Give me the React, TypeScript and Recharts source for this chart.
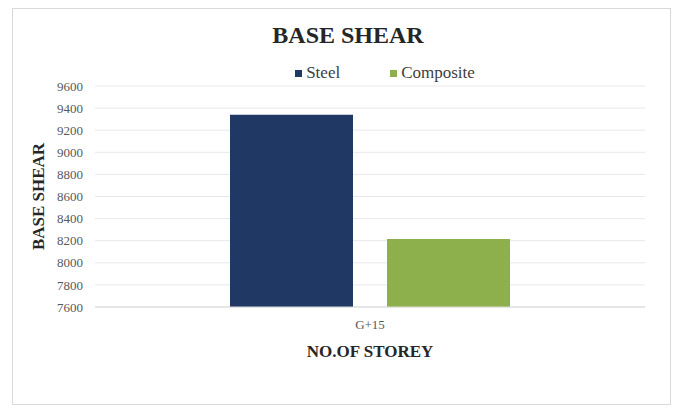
import React from "react";
import { BarChart, Bar, XAxis, YAxis, CartesianGrid, Legend, Label } from "recharts";

// Base shear for G+15 building — steel vs composite
const categories = ["G+15"];
const steelValues = [9340];
const compositeValues = [8215];
const yTicks = [7600, 7800, 8000, 8200, 8400, 8600, 8800, 9000, 9200, 9400, 9600];
const seriesNames = ["Steel", "Composite"];

const data = categories.map((name, i) => ({
  name,
  Steel: steelValues[i],
  Composite: compositeValues[i],
}));

const SERIF = "Liberation Serif, Times New Roman, serif";
const STEEL = "#1F3864";
const COMPOSITE = "#8DB04C";
const colorOf: Record<string, string> = { Steel: STEEL, Composite: COMPOSITE };

function LegendContent() {
  return (
    <div style={{ display: "flex", justifyContent: "center", gap: 50, fontFamily: SERIF, fontSize: 17, color: "#404040" }}>
      {seriesNames.map((n) => (
        <div key={n} style={{ display: "flex", alignItems: "center" }}>
          <span style={{ width: 7, height: 7, background: colorOf[n], display: "inline-block", marginRight: 4 }} />
          {n}
        </div>
      ))}
    </div>
  );
}

export default function App() {
  return (
    <div style={{ position: "absolute", left: 0, top: 0, width: 683, height: 414, background: "#fff", fontFamily: SERIF }}>
      <div
        style={{
          position: "absolute", left: 12, top: 8, width: 659, height: 397,
          border: "1px solid #d9d9d9", boxSizing: "border-box",
        }}
      />
      <div
        style={{
          position: "absolute", left: 0, top: 22, width: 696, textAlign: "center",
          fontFamily: SERIF, fontWeight: "bold", fontSize: 24, color: "#262626",
        }}
      >
        BASE SHEAR
      </div>
      <div style={{ position: "absolute", left: 0, top: 0 }}>
        <style>{`.recharts-wrapper text { font-family: Liberation Serif, Times New Roman, serif; }`}</style>
        <BarChart
          width={683}
          height={414}
          data={data}
          margin={{ top: 64, right: 38, bottom: 47, left: 0 }}
          barSize={123}
          barGap={34}
        >
          <CartesianGrid vertical={false} stroke="#e8e8e8" />
          <XAxis
            dataKey="name"
            height={60}
            axisLine={{ stroke: "#d9d9d9" }}
            tickLine={false}
            tickSize={0}
            tickMargin={13}
            tick={{ fill: "#595959", fontSize: 13, fontFamily: SERIF }}
          >
            <Label
              value="NO.OF STOREY"
              position="insideBottom"
              offset={10}
              style={{ fontFamily: SERIF, fontWeight: "bold", fontSize: 17, fill: "#262626" }}
            />
          </XAxis>
          <YAxis
            width={95}
            domain={[7600, 9600]}
            ticks={yTicks}
            interval={0}
            axisLine={false}
            tickLine={false}
            tickSize={0}
            tickMargin={12}
            tick={{ fill: "#595959", fontSize: 13, fontFamily: SERIF }}
          >
            <Label
              value="BASE SHEAR"
              angle={-90}
              position="insideLeft"
              offset={38}
              style={{ fontFamily: SERIF, fontWeight: "bold", fontSize: 17, fill: "#262626", textAnchor: "middle" }}
            />
          </YAxis>
          <Legend
            verticalAlign="top"
            height={22}
            content={<LegendContent />}
            wrapperStyle={{ top: 63, left: 194, width: 382 }}
          />
          <Bar dataKey="Steel" fill={STEEL} isAnimationActive={false} />
          <Bar dataKey="Composite" fill={COMPOSITE} isAnimationActive={false} />
        </BarChart>
      </div>
    </div>
  );
}
